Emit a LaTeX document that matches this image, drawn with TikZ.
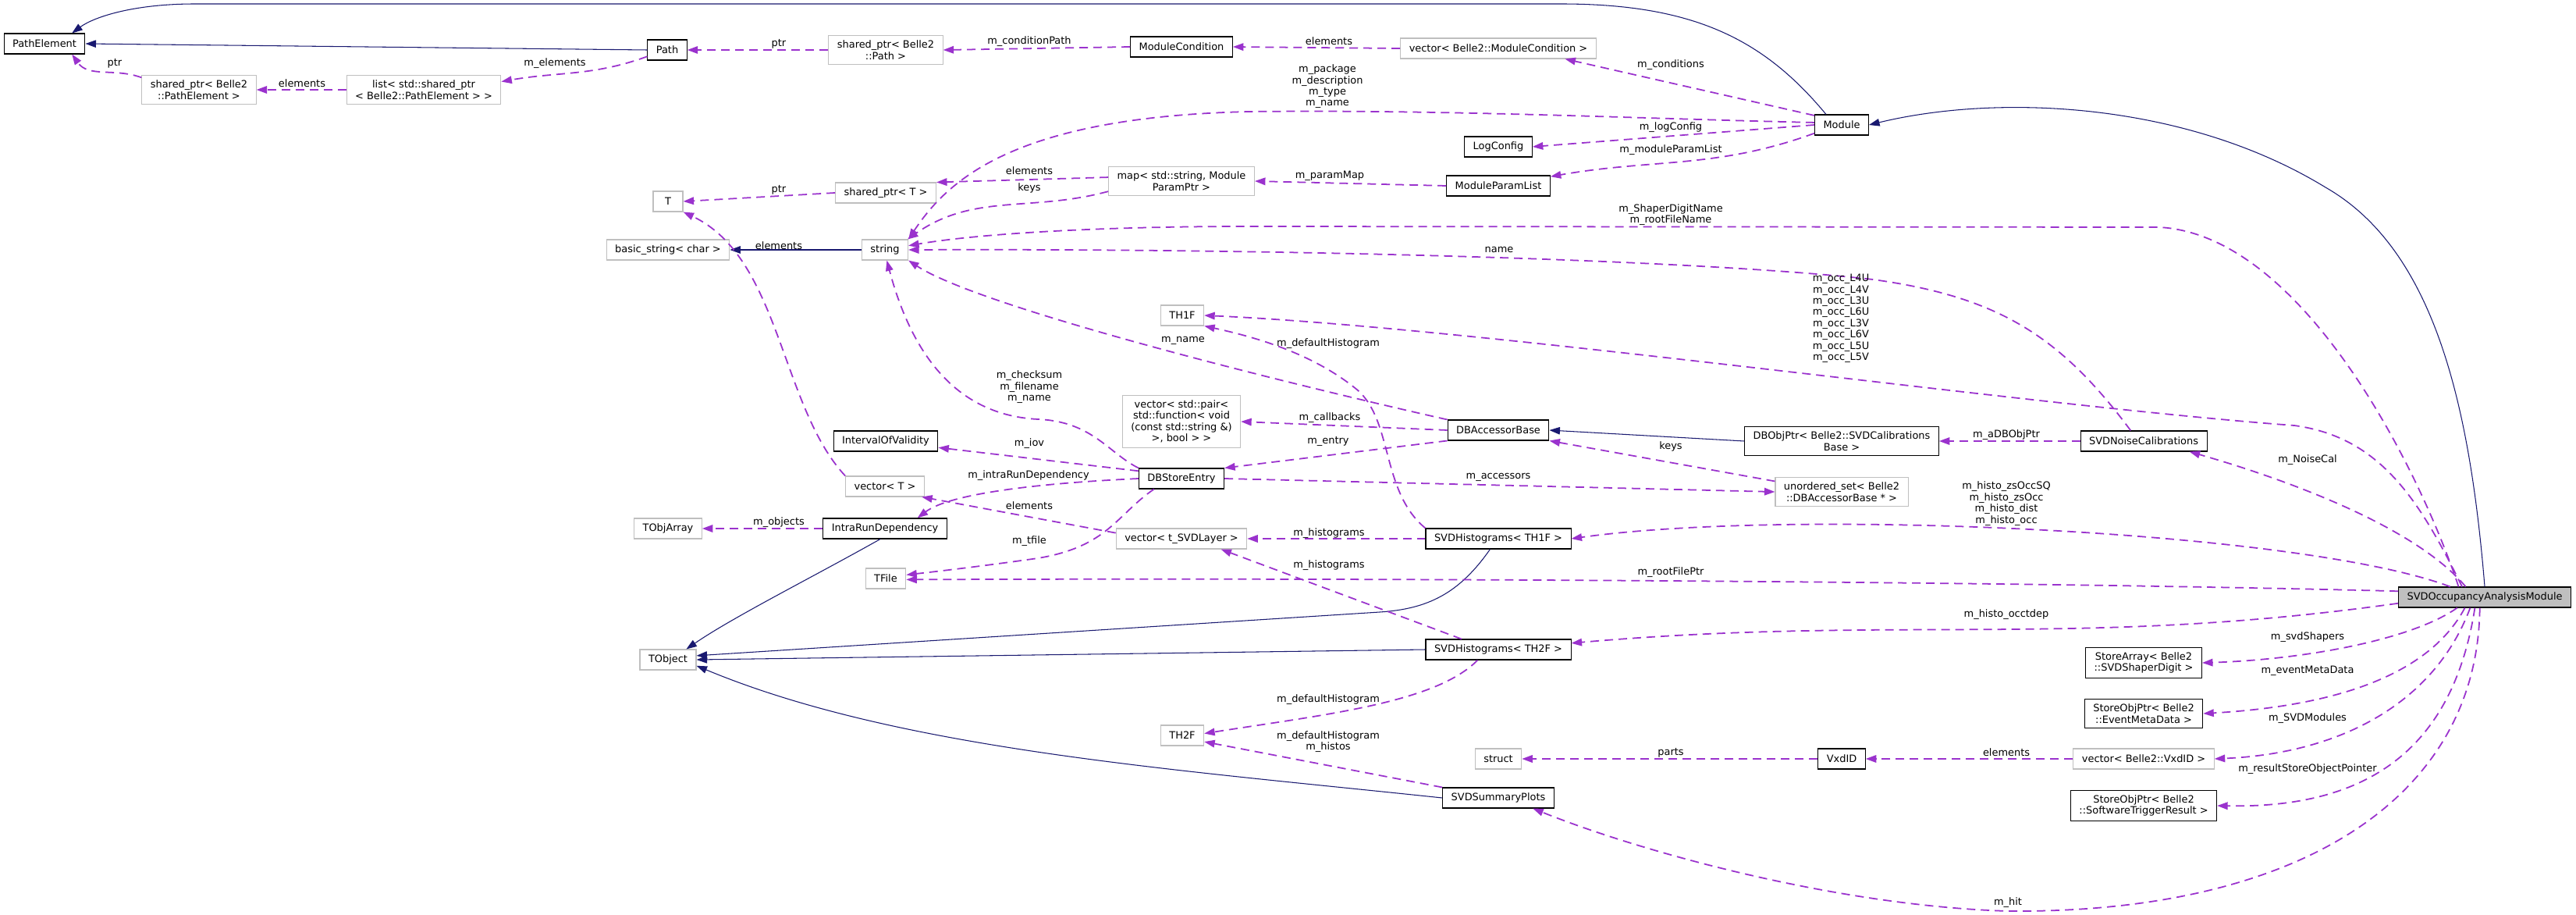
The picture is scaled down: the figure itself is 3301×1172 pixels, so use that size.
\documentclass[tikz,border=0pt]{standalone}
\usepackage{fontspec}
\setmainfont{DejaVu Sans}
\usetikzlibrary{arrows.meta}
\definecolor{edgeblue}{HTML}{191970}
\definecolor{edgepurple}{HTML}{9A32CD}
\definecolor{boxgray}{HTML}{BFBFBF}

\begin{document}
\begin{tikzpicture}[x=0.02cm,y=-0.02cm,
  font=\fontsize{7.36}{8.2}\selectfont,
  cls/.style={draw=black,line width=0.6pt,fill=white,inner xsep=0.22cm,inner ysep=0.125cm,
    minimum height=0.52cm,minimum width=0.76cm,align=center},
  ext/.style={cls,draw=boxgray},
  focus/.style={cls,fill=boxgray},
  lbl/.style={inner sep=0pt,align=center},
  inhedge/.style={draw=edgeblue,line width=0.6pt,-{Triangle[length=0.27cm,width=0.19cm]}},
  useedge/.style={draw=edgepurple,line width=1pt,dash pattern=on 0.22cm off 0.14cm,
    -{Triangle[length=0.27cm,width=0.19cm]}}]
  \path[use as bounding box,fill=white] (0,0) rectangle (3301,1172);

  % classes
  \node[cls] (pathel) at (57,56) {PathElement};
  \node[cls] (path) at (855,64) {Path};
  \node[ext] (spPathEl) at (255,115) {shared\_ptr< Belle2\\::PathElement >};
  \node[ext] (listPathEl) at (543,115) {list< std::shared\_ptr\\< Belle2::PathElement > >};
  \node[ext] (spPath) at (1135,64) {shared\_ptr< Belle2\\::Path >};
  \node[cls] (modCond) at (1514,60) {ModuleCondition};
  \node[ext] (vecModCond) at (1920,62) {vector< Belle2::ModuleCondition >};
  \node[cls] (module) at (2360,160) {Module};
  \node[cls] (logConfig) at (1920,188) {LogConfig};
  \node[cls] (modParamList) at (1920,238) {ModuleParamList};
  \node[ext] (paramMap) at (1514,232) {map< std::string, Module\\ParamPtr >};
  \node[ext] (spT) at (1135,247) {shared\_ptr< T >};
  \node[ext] (tparam) at (856,258) {T};
  \node[ext] (basicStr) at (856,320) {basic\_string< char >};
  \node[ext] (strg) at (1134,320) {string};
  \node[ext] (thOneF) at (1515,404) {TH1F};
  \node[ext] (callbacks) at (1514,540) {vector< std::pair<\\std::function< void\\(const std::string \&)\\>, bool > >};
  \node[cls] (dbAccBase) at (1920,551) {DBAccessorBase};
  \node[cls] (dbObjPtr) at (2360,565) {DBObjPtr< Belle2::SVDCalibrations\\Base >};
  \node[cls] (noiseCal) at (2747,565) {SVDNoiseCalibrations};
  \node[cls] (iov) at (1135,565) {IntervalOfValidity};
  \node[cls] (dbStore) at (1514,613) {DBStoreEntry};
  \node[ext] (vecT) at (1134,623) {vector< T >};
  \node[ext] (accSet) at (2360,630) {unordered\_set< Belle2\\::DBAccessorBase * >};
  \node[ext] (tobjArray) at (856,677) {TObjArray};
  \node[cls] (intraRun) at (1134,677) {IntraRunDependency};
  \node[ext] (vecLayer) at (1514,690) {vector< t\_SVDLayer >};
  \node[cls] (histOne) at (1920,690) {SVDHistograms< TH1F >};
  \node[ext] (tfile) at (1135,741) {TFile};
  \node[focus] (occMod) at (3184,765) {SVDOccupancyAnalysisModule};
  \node[ext] (tobject) at (856,845) {TObject};
  \node[cls] (histTwo) at (1920,832) {SVDHistograms< TH2F >};
  \node[cls] (storeShapers) at (2747,849) {StoreArray< Belle2\\::SVDShaperDigit >};
  \node[cls] (storeMeta) at (2747,914) {StoreObjPtr< Belle2\\::EventMetaData >};
  \node[ext] (thTwoF) at (1515,942) {TH2F};
  \node[ext] (structNd) at (1920,972) {struct};
  \node[cls] (vxdID) at (2360,972) {VxdID};
  \node[ext] (vecVxd) at (2747,972) {vector< Belle2::VxdID >};
  \node[cls] (storeTrig) at (2747,1032) {StoreObjPtr< Belle2\\::SoftwareTriggerResult >};
  \node[cls] (summary) at (1920,1022) {SVDSummaryPlots};

  % inheritance
  \draw[inhedge] (path.west) -- (pathel.east);
  \draw[inhedge] (module.146) .. controls (2260,50) and (2170,5) .. (2000,5) -- (250,5)
    .. controls (170,5) and (120,22) .. (pathel.21);
  \draw[inhedge] (occMod.north) .. controls (3165,520) and (3120,320) .. (2980,240)
    .. controls (2800,130) and (2560,120) .. (module.east);
  \draw[inhedge] (dbObjPtr.west) -- (dbAccBase.east);
  \draw[inhedge] (histOne.-128) .. controls (1870,760) and (1830,780) .. (1768,784) -- (tobject.8);
  \draw[inhedge] (histTwo.west) -- (tobject.east);
  \draw[inhedge] (summary.west) .. controls (1500,985) and (1150,960) .. (tobject.-12);
  \draw[inhedge] (intraRun.-114) .. controls (1040,740) and (940,790) .. (tobject.30);
  \draw[inhedge] (strg.west) -- (basicStr.east);

  % members
  \draw[useedge] (spPathEl.168) to[out=160,in=-55] (pathel.-21);
  \draw[useedge] (listPathEl.west) -- (spPathEl.east);
  \draw[useedge] (path.198) to[out=-160,in=10] (listPathEl.6);
  \draw[useedge] (spPath.west) -- (path.east);
  \draw[useedge] (modCond.west) -- (spPath.east);
  \draw[useedge] (vecModCond.west) -- (modCond.east);
  \draw[useedge] (module.161) -- (vecModCond.-9);
  \draw[useedge] (module.175) .. controls (2100,152) and (1850,140) .. (1600,143)
    .. controls (1300,150) and (1215,230) .. (strg.north east);
  \draw[useedge] (module.west) -- (logConfig.east);
  \draw[useedge] (module.197) to[out=200,in=10] (modParamList.10);
  \draw[useedge] (modParamList.west) -- (paramMap.east);
  \draw[useedge] (paramMap.177) -- (spT.north east);
  \draw[useedge] (paramMap.188) to[out=195,in=35] (strg.25);
  \draw[useedge] (spT.west) -- (tparam.east);
  \draw[useedge] (vecT.north west) .. controls (1000,520) and (1000,330) .. (tparam.south east);
  \draw[useedge] (occMod.158) .. controls (3100,600) and (2950,300) .. (2766,291) -- (1600,290)
    .. controls (1400,290) and (1250,300) .. (strg.10);
  \draw[useedge] (occMod.176) .. controls (2600,745) and (1800,740) .. (tfile.-3);
  \draw[useedge] (occMod.-176) to[out=188,in=5] (histTwo.5);
  \draw[useedge] (occMod.163) .. controls (2950,680) and (2300,650) .. (histOne.east);
  \draw[useedge] (occMod.151) .. controls (3100,680) and (2950,620) .. (noiseCal.-13);
  \draw[useedge] (occMod.155) .. controls (3100,640) and (3050,560) .. (2940,545)
    .. controls (2600,520) and (1900,420) .. (thOneF.east);
  \draw[useedge] (noiseCal.141) .. controls (2640,430) and (2560,380) .. (2400,358)
    .. controls (2200,335) and (1700,318) .. (strg.east);
  \draw[useedge] (noiseCal.west) -- (dbObjPtr.east);
  \draw[useedge] (occMod.-159) .. controls (3090,820) and (2950,845) .. (storeShapers.east);
  \draw[useedge] (occMod.-152) .. controls (3110,870) and (2980,905) .. (storeMeta.east);
  \draw[useedge] (occMod.-144) .. controls (3120,900) and (3000,965) .. (vecVxd.east);
  \draw[useedge] (occMod.-133) .. controls (3140,980) and (3010,1035) .. (storeTrig.east);
  \draw[useedge] (occMod.-115) .. controls (3175,1020) and (2950,1170) .. (2573,1167)
    .. controls (2350,1160) and (2100,1090) .. (summary.-17);
  \draw[useedge] (vecVxd.west) -- (vxdID.east);
  \draw[useedge] (vxdID.west) -- (structNd.east);
  \draw[useedge] (summary.north west) -- (thTwoF.-16);
  \draw[useedge] (histTwo.-153) .. controls (1840,900) and (1700,915) .. (thTwoF.5);
  \draw[useedge] (histTwo.164) -- (vecLayer.-15);
  \draw[useedge] (histOne.west) -- (vecLayer.east);
  \draw[useedge] (histOne.north west) .. controls (1770,630) and (1785,540) .. (1740,500)
    .. controls (1680,450) and (1600,430) .. (thOneF.south east);
  \draw[useedge] (dbAccBase.north west) .. controls (1600,480) and (1250,390) .. (strg.south east);
  \draw[useedge] (dbAccBase.west) -- (callbacks.east);
  \draw[useedge] (dbAccBase.south west) -- (dbStore.north east);
  \draw[useedge] (dbStore.east) -- (accSet.west);
  \draw[useedge] (accSet.171) -- (dbAccBase.south east);
  \draw[useedge] (dbStore.170) -- (iov.-7);
  \draw[useedge] (dbStore.north west) .. controls (1420,580) and (1400,540) .. (1330,537)
    .. controls (1230,532) and (1170,460) .. (strg.-80);
  \draw[useedge] (dbStore.west) .. controls (1350,618) and (1220,630) .. (intraRun.18);
  \draw[useedge] (dbStore.-159) .. controls (1430,660) and (1420,700) .. (1330,715)
    .. controls (1260,725) and (1200,732) .. (tfile.10);
  \draw[useedge] (vecLayer.175) -- (vecT.-16);
  \draw[useedge] (intraRun.west) -- (tobjArray.east);

  % edge labels
  \node[lbl] (lPtrPE) at (147,81) {ptr};
  \node[lbl] (lElemPE) at (387,107) {elements};
  \node[lbl] (lElems) at (711,81) {m\_elements};
  \node[lbl] (lPtrPath) at (998,56) {ptr};
  \node[lbl] (lCondPath) at (1319,53) {m\_conditionPath};
  \node[lbl] (lElemCond) at (1703,53) {elements};
  \node[lbl] (lConds) at (2141,83) {m\_conditions};
  \node[lbl] (lModStr) at (1701,111) {m\_package\\m\_description\\m\_type\\m\_name};
  \node[lbl] (lLog) at (2141,163) {m\_logConfig};
  \node[lbl] (lParamList) at (2141,192) {m\_moduleParamList};
  \node[lbl] (lPtrT) at (998,243) {ptr};
  \node[lbl] (lElemMap) at (1319,219) {elements};
  \node[lbl] (lParamMap) at (1704,225) {m\_paramMap};
  \node[lbl] (lKeysMap) at (1319,241) {keys};
  \node[lbl] (lShaperName) at (2141,275) {m\_ShaperDigitName\\m\_rootFileName};
  \node[lbl] (lElemT) at (998,315) {elements};
  \node[lbl] (lName) at (1921,320) {name};
  \node[lbl] (lOcc) at (2359,408) {m\_occ\_L4U\\m\_occ\_L4V\\m\_occ\_L3U\\m\_occ\_L6U\\m\_occ\_L3V\\m\_occ\_L6V\\m\_occ\_L5U\\m\_occ\_L5V};
  \node[lbl] (lAccName) at (1516,436) {m\_name};
  \node[lbl] (lDefOne) at (1702,440) {m\_defaultHistogram};
  \node[lbl] (lStoreStr) at (1319,496) {m\_checksum\\m\_filename\\m\_name};
  \node[lbl] (lCallbacks) at (1704,535) {m\_callbacks};
  \node[lbl] (lObjPtr) at (2571,557) {m\_aDBObjPtr};
  \node[lbl] (lEntry) at (1702,565) {m\_entry};
  \node[lbl] (lIov) at (1319,568) {m\_iov};
  \node[lbl] (lKeysSet) at (2141,572) {keys};
  \node[lbl] (lNoise) at (2957,589) {m\_NoiseCal};
  \node[lbl] (lIntra) at (1318,609) {m\_intraRunDependency};
  \node[lbl] (lAccessors) at (1920,611) {m\_accessors};
  \node[lbl] (lHisto) at (2571,645) {m\_histo\_zsOccSQ\\m\_histo\_zsOcc\\m\_histo\_dist\\m\_histo\_occ};
  \node[lbl] (lElemLayer) at (1319,648) {elements};
  \node[lbl] (lObjects) at (998,669) {m\_objects};
  \node[lbl] (lHistsOne) at (1703,683) {m\_histograms};
  \node[lbl] (lTfile) at (1319,693) {m\_tfile};
  \node[lbl] (lHistsTwo) at (1703,724) {m\_histograms};
  \node[lbl] (lRootPtr) at (2141,733) {m\_rootFilePtr};
  \node[lbl] (lOccTdep) at (2571,787) {m\_histo\_occtdep};
  \node[lbl] (lShapers) at (2957,816) {m\_svdShapers};
  \node[lbl] (lMeta) at (2957,859) {m\_eventMetaData};
  \node[lbl] (lDefTwo) at (1702,896) {m\_defaultHistogram};
  \node[lbl] (lModules) at (2957,920) {m\_SVDModules};
  \node[lbl] (lSummary) at (1702,950) {m\_defaultHistogram\\m\_histos};
  \node[lbl] (lParts) at (2141,964) {parts};
  \node[lbl] (lElemVxd) at (2571,964) {elements};
  \node[lbl] (lTrig) at (2957,985) {m\_resultStoreObjectPointer};
  \node[lbl] (lHit) at (2573,1156) {m\_hit};
\end{tikzpicture}
\end{document}
